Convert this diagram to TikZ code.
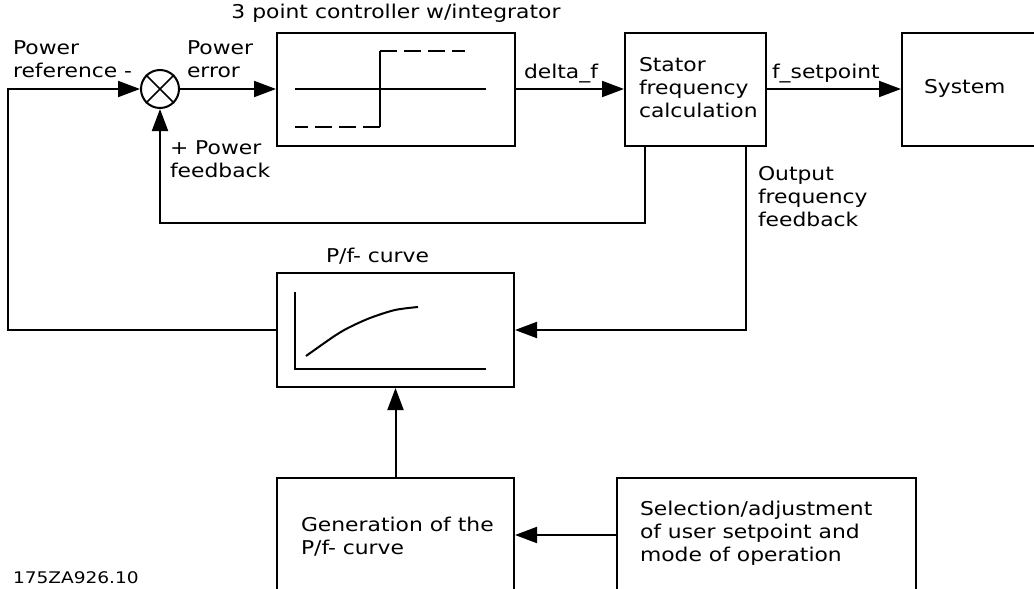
\documentclass[tikz,border=0pt]{standalone}
\usepackage{fontspec}
\newfontfamily\labfont[FakeStretch=1.15]{DejaVu Sans}
\newfontfamily\idfont[FakeStretch=1.16]{DejaVu Sans}
\usetikzlibrary{arrows.meta,calc}
\begin{document}
\begin{tikzpicture}[x=1pt,y=-1pt,line width=2pt,
  blk/.style={draw,rectangle,inner sep=0pt},
  lbl/.style={font=\labfont\fontsize{19}{23}\selectfont,inner sep=0pt,anchor=base west,align=left},
  arr/.style={-{Triangle[length=22pt,width=16pt]}},
  dsh/.style={dash pattern=on 17pt off 7pt}]
\useasboundingbox (0,0) rectangle (1034,589);
% blocks
\node[draw,circle,inner sep=0pt,minimum size=38pt] (sum) at (160,89) {};
\draw[line width=1.6pt] (sum.north west) -- (sum.south east) (sum.north east) -- (sum.south west);
\node[blk,minimum width=238pt,minimum height=113pt] (ctrl) at (396,89) {};
\node[blk,minimum width=141pt,minimum height=113pt] (stat) at (695.5,89) {};
\node[blk,minimum width=150pt,minimum height=113pt] (sys) at (977,89) {};
\node[blk,minimum width=237pt,minimum height=114pt] (pf) at (395.5,330) {};
\node[blk,minimum width=237pt,minimum height=150pt] (gen) at (395.5,553) {};
\node[blk,minimum width=299pt,minimum height=150pt] (sel) at (766.5,553) {};
% controller characteristic
\draw (295,89) -- (486,89);
\draw[dsh] (380,127) -- (295,127);
\draw (380,127) -- (380,51);
\draw[dsh] (380,51) -- (465,51);
% P/f curve
\draw (295,292) -- (295,369) -- (486,369);
\draw plot[smooth] coordinates {(306,356) (333,337) (348,328) (370,318) (395,310) (418,307)};
% labels (anchor at the baseline of the last line)
\node[lbl,anchor=base] (title) at (396,19) {3 point controller w/integrator};
\node[lbl] (pref) at (12,77) {Power\\reference -};
\node[lbl] (perr) at (186,77) {Power\\error};
\node[lbl] (pfb) at (169,177) {+ Power\\feedback};
\node[lbl] (df) at (523,78) {delta\_f};
\node[lbl] (stxt) at (638,117) {Stator\\frequency\\calculation};
\node[lbl] (fset) at (771,78) {f\_setpoint};
\node[lbl] (systxt) at (923,93) {System};
\node[lbl] (oft) at (757,226) {Output\\frequency\\feedback};
\node[lbl] (pft) at (325,262) {P/f- curve};
\node[lbl] (gent) at (300,554) {Generation of the\\P/f- curve};
\node[lbl] (selt) at (639,561) {Selection/adjustment\\of user setpoint and\\mode of operation};
\node[inner sep=0pt,anchor=base west,font=\idfont\fontsize{16}{20}\selectfont] (id) at (12,583) {175ZA926.10};
% connectors
\coordinate (lb) at (8,330);
\coordinate (lt) at (8,89);
\draw[arr] (pf.west) -- (lb) -- (lt) -- (sum.west);
\draw[arr] (sum.east) -- (ctrl.west);
\draw[arr] (ctrl.east) -- (stat.west);
\draw[arr] (stat.east) -- (sys.west);
\coordinate (fb) at (645,223);
\draw[arr] (stat.south -| fb) -- (fb) -| (sum.south);
\coordinate (of) at (746,330);
\draw[arr] (stat.south -| of) -- (of) -- (pf.east);
\draw[arr] (gen.north) -- (pf.south);
\coordinate (ay) at (0,535);
\draw[arr] (sel.west |- ay) -- (gen.east |- ay);
\end{tikzpicture}
\end{document}
